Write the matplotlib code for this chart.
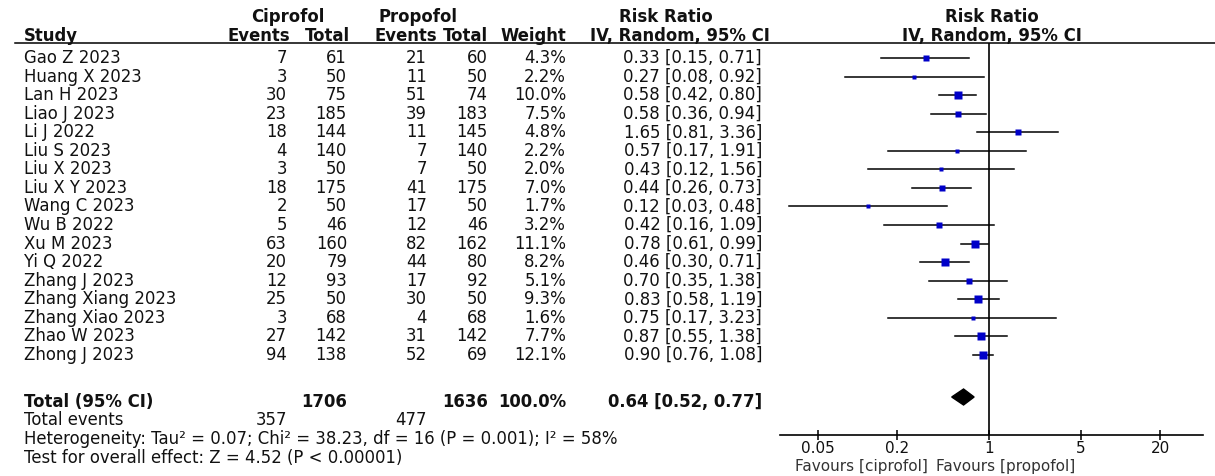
import matplotlib.pyplot as plt
from matplotlib.patches import Polygon

# study data
studies = ["Gao Z 2023", "Huang X 2023", "Lan H 2023", "Liao J 2023", "Li J 2022",
           "Liu S 2023", "Liu X 2023", "Liu X Y 2023", "Wang C 2023", "Wu B 2022",
           "Xu M 2023", "Yi Q 2022", "Zhang J 2023", "Zhang Xiang 2023",
           "Zhang Xiao 2023", "Zhao W 2023", "Zhong J 2023"]
cip_events = [7, 3, 30, 23, 18, 4, 3, 18, 2, 5, 63, 20, 12, 25, 3, 27, 94]
cip_total = [61, 50, 75, 185, 144, 140, 50, 175, 50, 46, 160, 79, 93, 50, 68, 142, 138]
pro_events = [21, 11, 51, 39, 11, 7, 7, 41, 17, 12, 82, 44, 17, 30, 4, 31, 52]
pro_total = [60, 50, 74, 183, 145, 140, 50, 175, 50, 46, 162, 80, 92, 50, 68, 142, 69]
weight = [4.3, 2.2, 10.0, 7.5, 4.8, 2.2, 2.0, 7.0, 1.7, 3.2, 11.1, 8.2, 5.1, 9.3, 1.6, 7.7, 12.1]
rr = [0.33, 0.27, 0.58, 0.58, 1.65, 0.57, 0.43, 0.44, 0.12, 0.42, 0.78, 0.46, 0.70, 0.83, 0.75, 0.87, 0.90]
lo = [0.15, 0.08, 0.42, 0.36, 0.81, 0.17, 0.12, 0.26, 0.03, 0.16, 0.61, 0.30, 0.35, 0.58, 0.17, 0.55, 0.76]
hi = [0.71, 0.92, 0.80, 0.94, 3.36, 1.91, 1.56, 0.73, 0.48, 1.09, 0.99, 0.71, 1.38, 1.19, 3.23, 1.38, 1.08]

# pooled result
tot_cip, tot_pro = 1706, 1636
ev_cip, ev_pro = 357, 477
pooled = (0.64, 0.52, 0.77)
het_text = "Heterogeneity: Tau² = 0.07; Chi² = 38.23, df = 16 (P = 0.001); I² = 58%"
test_text = "Test for overall effect: Z = 4.52 (P < 0.00001)"
ticks = [0.05, 0.2, 1, 5, 20]

W, H = 1215, 476
plt.rcParams['font.family'] = 'DejaVu Sans'
fs = 11.9
fs_axis = 11
tc = '#111111'

fig = plt.figure(figsize=(W / 100, H / 100), dpi=100)
ax = fig.add_axes([0, 0, 1, 1])
ax.set_xlim(0, W)
ax.set_ylim(H, 0)
ax.axis('off')

row0, dy = 58, 18.56
def ypos(i):
    return row0 + dy * i

# column headers
ax.text(288, 17, "Ciprofol", ha='center', va='center', fontsize=fs, fontweight='bold', color=tc)
ax.text(418, 17, "Propofol", ha='center', va='center', fontsize=fs, fontweight='bold', color=tc)
ax.text(666, 17, "Risk Ratio", ha='center', va='center', fontsize=fs, fontweight='bold', color=tc)
ax.text(992, 17, "Risk Ratio", ha='center', va='center', fontsize=fs, fontweight='bold', color=tc)
ax.text(24, 36, "Study", ha='left', va='center', fontsize=fs, fontweight='bold', color=tc)
for x, s in [(290, "Events"), (350, "Total"), (437, "Events"), (488, "Total"), (566, "Weight")]:
    ax.text(x, 36, s, ha='right', va='center', fontsize=fs, fontweight='bold', color=tc)
ax.text(680, 36, "IV, Random, 95% CI", ha='center', va='center', fontsize=fs, fontweight='bold', color=tc)
ax.text(992, 36, "IV, Random, 95% CI", ha='center', va='center', fontsize=fs, fontweight='bold', color=tc)
ax.plot([15, W], [43, 43], color='black', lw=1.1)

# study rows
for i, s in enumerate(studies):
    y = ypos(i)
    ax.text(24, y, s, ha='left', va='center', fontsize=fs, color=tc)
    ax.text(287, y, str(cip_events[i]), ha='right', va='center', fontsize=fs, color=tc)
    ax.text(347, y, str(cip_total[i]), ha='right', va='center', fontsize=fs, color=tc)
    ax.text(427, y, str(pro_events[i]), ha='right', va='center', fontsize=fs, color=tc)
    ax.text(488, y, str(pro_total[i]), ha='right', va='center', fontsize=fs, color=tc)
    ax.text(566, y, f"{weight[i]:.1f}%", ha='right', va='center', fontsize=fs, color=tc)
    ax.text(762, y, f"{rr[i]:.2f} [{lo[i]:.2f}, {hi[i]:.2f}]", ha='right', va='center', fontsize=fs, color=tc)

# totals
yt = 402
ax.text(24, yt, "Total (95% CI)", ha='left', va='center', fontsize=fs, fontweight='bold', color=tc)
ax.text(347, yt, str(tot_cip), ha='right', va='center', fontsize=fs, fontweight='bold', color=tc)
ax.text(488, yt, str(tot_pro), ha='right', va='center', fontsize=fs, fontweight='bold', color=tc)
ax.text(566, yt, f"{sum(weight):.1f}%", ha='right', va='center', fontsize=fs, fontweight='bold', color=tc)
ax.text(762, yt, f"{pooled[0]:.2f} [{pooled[1]:.2f}, {pooled[2]:.2f}]", ha='right', va='center',
        fontsize=fs, fontweight='bold', color=tc)
ax.text(24, 420, "Total events", ha='left', va='center', fontsize=fs, color=tc)
ax.text(287, 420, str(ev_cip), ha='right', va='center', fontsize=fs, color=tc)
ax.text(427, 420, str(ev_pro), ha='right', va='center', fontsize=fs, color=tc)
ax.text(24, 439, het_text, ha='left', va='center', fontsize=fs, color=tc)
ax.text(24, 458, test_text, ha='left', va='center', fontsize=fs, color=tc)

# forest plot panel, log scale
xmin, xmax = 0.0255, 42
left, right = 779.5, 1202.5
top, bottom = 43, 435
fx = fig.add_axes([left / W, 1 - bottom / H, (right - left) / W, (bottom - top) / H])
fx.set_xscale('log')
fx.set_xlim(xmin, xmax)
fx.set_ylim(bottom, top)
fx.patch.set_alpha(0)
for side in ['top', 'right', 'left']:
    fx.spines[side].set_visible(False)
fx.spines['bottom'].set_linewidth(1.2)
fx.set_yticks([])
fx.set_xticks(ticks)
fx.set_xticklabels([f"{t:g}" for t in ticks])
fx.minorticks_off()
fx.tick_params(axis='x', direction='inout', length=7, width=1.2, labelsize=fs_axis, pad=0.5, colors=tc)

fx.axvline(1, color='black', lw=1.2)
for i in range(len(studies)):
    y = ypos(i)
    fx.plot([lo[i], hi[i]], [y, y], color='black', lw=1.1)
    fx.plot(rr[i], y, marker='s', color='#0000c8', markersize=1.2 + 1.4 * weight[i] ** 0.5, mec='none')

yd = 397
est, clo, chi = pooled
fx.add_patch(Polygon([[clo, yd], [est, yd - 8], [chi, yd], [est, yd + 8]], closed=True,
                     facecolor='black', edgecolor='black'))

ax.text(928, 467, "Favours [ciprofol]", ha='right', va='center', fontsize=fs_axis, color='#333333')
ax.text(936, 467, "Favours [propofol]", ha='left', va='center', fontsize=fs_axis, color='#333333')

fig.savefig('out.png', dpi=100)
